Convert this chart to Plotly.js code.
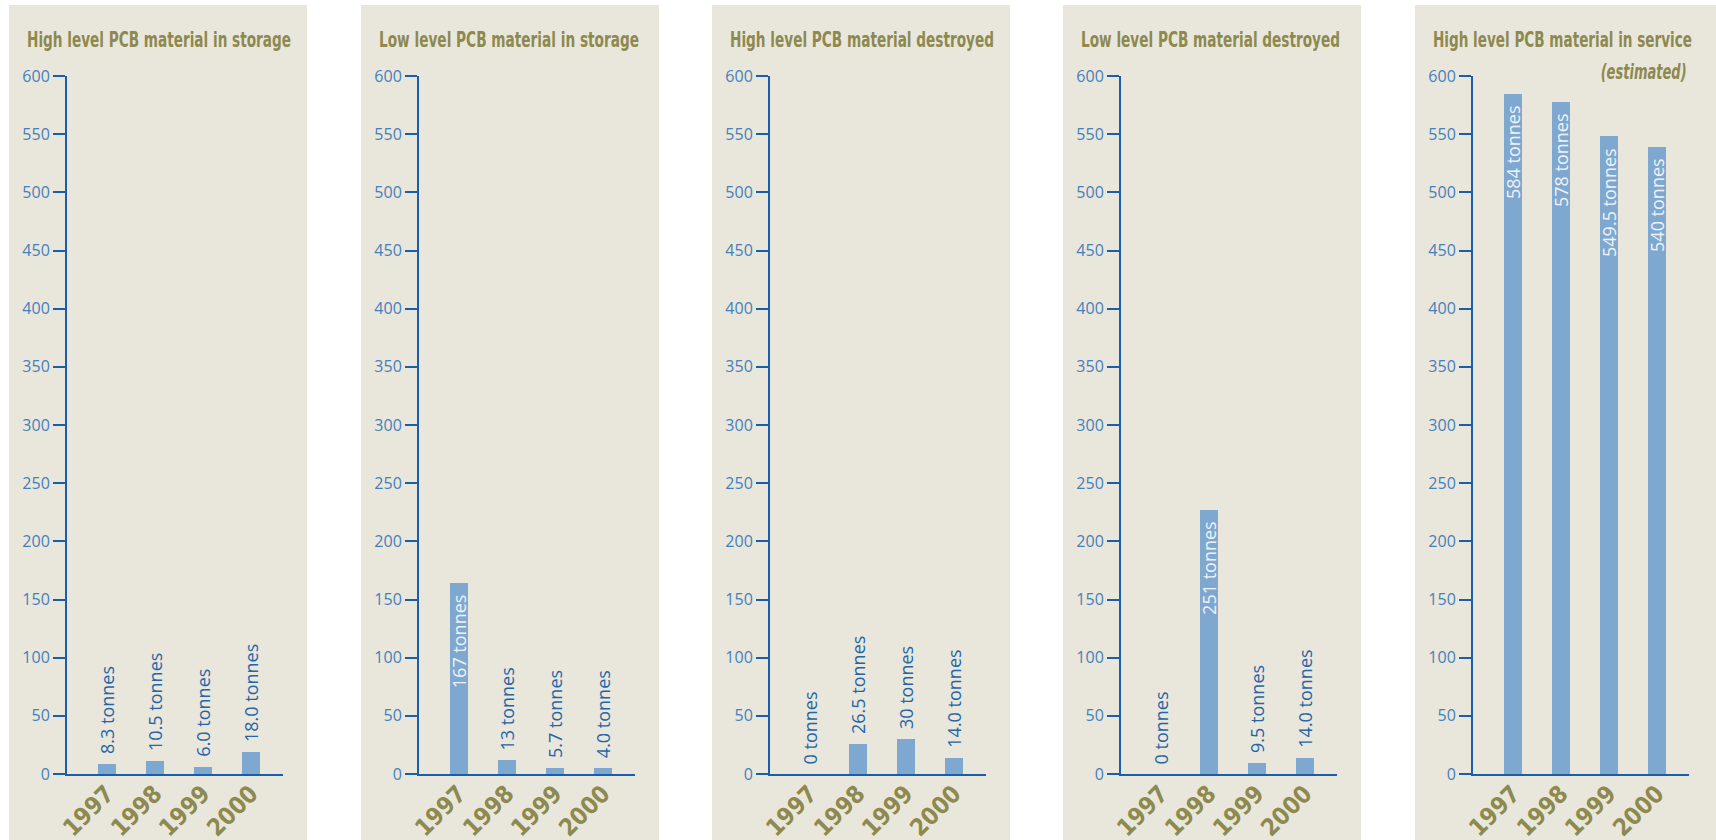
<!DOCTYPE html>
<html>
<head>
<meta charset="utf-8">
<script src="https://cdn.plot.ly/plotly-3.0.1.min.js"></script>
<style>html,body{margin:0;padding:0;background:#fff;}#chart{width:1716px;height:840px;}</style>
</head>
<body>
<div id="chart"></div>
<script>
// ---- data ----
var years = ['1997', '1998', '1999', '2000'];
var titles = [
  'High level PCB material in storage',
  'Low level PCB material in storage',
  'High level PCB material destroyed',
  'Low level PCB material destroyed',
  'High level PCB material in service'
];
var subtitle = '(estimated)';
// bar heights as drawn
var hlStorage   = [8.6, 11.2, 6.3, 18.9];
var llStorage   = [164, 12, 5.2, 5.0];
var hlDestroyed = [0, 25.8, 30.4, 14.0];
var llDestroyed = [0, 227, 9.5, 14.0];
var hlService   = [584.5, 577.6, 548, 539];
// printed labels
var hlStorageLbl   = ['8.3 tonnes', '10.5 tonnes', '6.0 tonnes', '18.0 tonnes'];
var llStorageLbl   = ['167 tonnes', '13 tonnes', '5.7 tonnes', '4.0 tonnes'];
var hlDestroyedLbl = ['0 tonnes', '26.5 tonnes', '30 tonnes', '14.0 tonnes'];
var llDestroyedLbl = ['0 tonnes', '251 tonnes', '9.5 tonnes', '14.0 tonnes'];
var hlServiceLbl   = ['584 tonnes', '578 tonnes', '549.5 tonnes', '540 tonnes'];
var yTicks = [0, 50, 100, 150, 200, 250, 300, 350, 400, 450, 500, 550, 600];

var series = [hlStorage, llStorage, hlDestroyed, llDestroyed, hlService];
var labels = [hlStorageLbl, llStorageLbl, hlDestroyedLbl, llDestroyedLbl, hlServiceLbl];

// ---- style ----
var W = 1716, H = 840;
var panelLeft = [9, 361, 712, 1063, 1415];
var panelW = 298;
var axisOff = 58, axisLen = 216;
var titleWidths = [264, 260, 264, 259, 259];
var subtitleWidth = 86;
var bg = '#e9e7dc', olive = '#8d894f', axisBlue = '#1b5ea8', tickBlue = '#4480bb',
    barBlue = '#7ea8d0', lblBlue = '#2565a6', inLbl = '#eef2f8';
var condensed = '"DejaVu Sans Condensed", "Liberation Sans Narrow", sans-serif';

var data = [], shapes = [], annotations = [];
var layout = {
  width: W, height: H,
  margin: {l: 0, r: 0, t: 0, b: 0},
  paper_bgcolor: '#ffffff', plot_bgcolor: 'rgba(0,0,0,0)',
  showlegend: false,
  bargap: 0
};

var titleIdx = [];
for (var i = 0; i < 5; i++) {
  var n = i === 0 ? '' : String(i + 1);
  var xa = 'x' + n, ya = 'y' + n;
  data.push({
    type: 'bar', x: years, y: series[i], xaxis: xa, yaxis: ya,
    width: 0.375, marker: {color: barBlue}, hoverinfo: 'skip'
  });
  var ax0 = (panelLeft[i] + axisOff) / W;
  layout['xaxis' + n] = {
    domain: [ax0, ax0 + axisLen / W], anchor: ya,
    type: 'category', range: [-0.833, 3.667],
    showline: true, linecolor: axisBlue, linewidth: 2,
    ticks: '', showgrid: false, zeroline: false,
    tickangle: -45, ticklabelstandoff: -6,
    tickfont: {family: condensed, size: 24, color: olive, weight: 'bold'}
  };
  layout['yaxis' + n] = {
    domain: [66 / H, 764 / H], anchor: xa,
    range: [0, 600], tickvals: yTicks,
    showline: true, linecolor: axisBlue, linewidth: 2,
    ticks: 'outside', ticklen: 12, tickwidth: 2, tickcolor: axisBlue,
    showgrid: false, zeroline: false,
    tickfont: {family: '"Open Sans", sans-serif', size: 16, color: tickBlue}
  };
  shapes.push({
    type: 'rect', xref: 'paper', yref: 'paper', layer: 'below',
    x0: panelLeft[i] / W, x1: i === 4 ? 1 : (panelLeft[i] + panelW) / W,
    y0: 0, y1: (H - 5) / H, fillcolor: bg, line: {width: 0}
  });
  titleIdx.push({idx: annotations.length, w: titleWidths[i]});
  annotations.push({
    xref: 'paper', yref: 'paper', x: (panelLeft[i] + 16) / W, y: (H - 40) / H,
    xanchor: 'left', yanchor: 'middle', align: 'left', showarrow: false, text: titles[i],
    font: {family: condensed, size: 21, color: olive, weight: 'bold'}
  });
  for (var j = 0; j < years.length; j++) {
    var inside = series[i][j] > 120;
    annotations.push({
      xref: xa, yref: ya, x: j, y: series[i][j],
      xanchor: 'center', yanchor: inside ? 'top' : 'bottom',
      yshift: inside ? -9 : 8,
      textangle: -90, showarrow: false, text: labels[i][j],
      font: {family: '"Open Sans", sans-serif', size: 18, color: inside ? inLbl : lblBlue}
    });
  }
}
titleIdx.push({idx: annotations.length, w: subtitleWidth});
annotations.push({
  xref: 'paper', yref: 'paper', x: 1689 / W, y: (H - 72) / H,
  xanchor: 'right', yanchor: 'middle', align: 'right', showarrow: false, text: subtitle,
  font: {family: condensed, size: 21, color: olive, weight: 'bold', style: 'italic'}
});
layout.shapes = shapes;
layout.annotations = annotations;

Plotly.newPlot('chart', data, layout, {staticPlot: true, displayModeBar: false}).then(function (gd) {
  // condense the heading glyphs to the narrow width of the original typeface
  titleIdx.forEach(function (t) {
    var g = gd.querySelector('.annotation[data-index="' + t.idx + '"] text.annotation-text');
    if (g) {
      g.setAttribute('textLength', t.w);
      g.setAttribute('lengthAdjust', 'spacingAndGlyphs');
    }
  });
});
</script>
</body>
</html>
